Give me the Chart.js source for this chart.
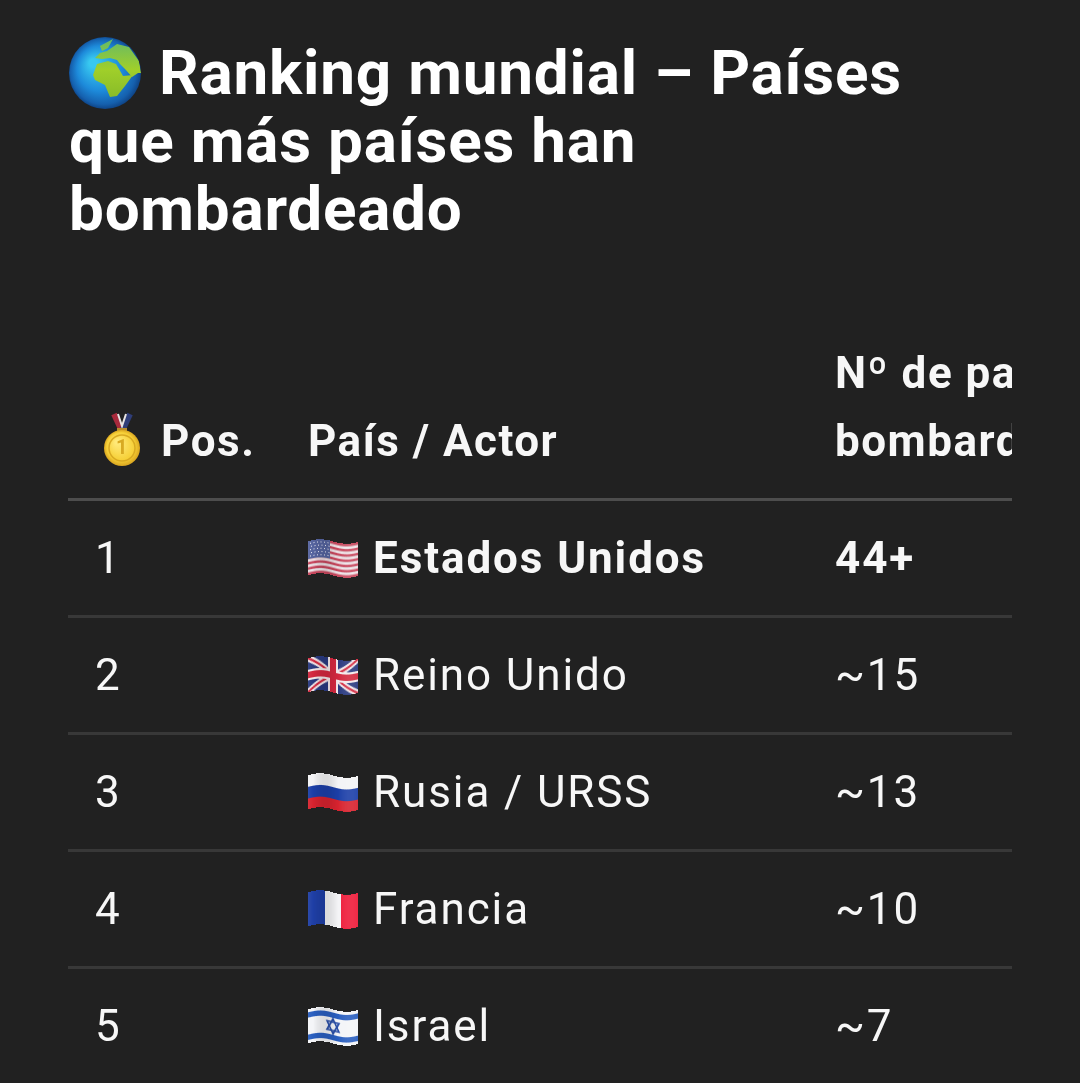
<!DOCTYPE html>
<html>
<head>
<meta charset="utf-8">
<style>
  html, body { margin: 0; padding: 0; background: #212121; overflow: hidden; }
  canvas { display: block; }
</style>
<script src="https://cdn.jsdelivr.net/npm/chart.js@4"></script>
</head>
<body>
<canvas id="rankingChart" width="1080" height="1084"></canvas>
<script>
// data
const titleLines = ['Ranking mundial – Países', 'que más países han', 'bombardeado'];
const headerPos = 'Pos.';
const headerCountry = 'País / Actor';
const headerCount = ['Nº de países', 'bombardeados'];
const positions = ['1', '2', '3', '4', '5'];
const countries = ['Estados Unidos', 'Reino Unido', 'Rusia / URSS', 'Francia', 'Israel'];
const flags = ['us', 'uk', 'ru', 'fr', 'il'];
const countValues = [44, 15, 13, 10, 7];
const countLabels = ['44+', '~15', '~13', '~10', '~7'];

const FONT = 'Roboto, "Noto Sans", sans-serif';
const WHITE = '#f7f7f7';

function flagCanvas(code) {
  const c = document.createElement('canvas');
  c.width = 50; c.height = 32;
  const g = c.getContext('2d');
  const w = 50, h = 32;
  if (code === 'us') {
    for (let i = 0; i < 13; i++) {
      g.fillStyle = i % 2 ? '#f0e8ec' : '#c8485e';
      g.fillRect(0, i * h / 13, w, h / 13 + 0.5);
    }
    g.fillStyle = '#56649f';
    g.fillRect(0, 0, 22, 17);
    g.fillStyle = '#e6e8f4';
    for (let y = 2; y < 17; y += 3) for (let x = 2 + (y % 2); x < 22; x += 3.5) g.fillRect(x, y, 1, 1);
  } else if (code === 'uk') {
    g.fillStyle = '#2a3a80';
    g.fillRect(0, 0, w, h);
    g.strokeStyle = '#f2e8ea'; g.lineWidth = 6;
    g.beginPath(); g.moveTo(0, 0); g.lineTo(w, h); g.moveTo(w, 0); g.lineTo(0, h); g.stroke();
    g.strokeStyle = '#d3283f'; g.lineWidth = 2;
    g.beginPath(); g.moveTo(0, 0); g.lineTo(w, h); g.moveTo(w, 0); g.lineTo(0, h); g.stroke();
    g.fillStyle = '#f2e8ea';
    g.fillRect(20, 0, 10, h); g.fillRect(0, 11, w, 10);
    g.fillStyle = '#d3283f';
    g.fillRect(22, 0, 6, h); g.fillRect(0, 13, w, 6);
  } else if (code === 'ru') {
    g.fillStyle = '#f4f4f6'; g.fillRect(0, 0, w, 11);
    g.fillStyle = '#1c3fa8'; g.fillRect(0, 11, w, 11);
    g.fillStyle = '#d8232f'; g.fillRect(0, 22, w, 10);
  } else if (code === 'fr') {
    g.fillStyle = '#1f3fa6'; g.fillRect(0, 0, 17, h);
    g.fillStyle = '#f4f4f6'; g.fillRect(17, 0, 16, h);
    g.fillStyle = '#ee1c3a'; g.fillRect(33, 0, 17, h);
  } else {
    g.fillStyle = '#f4f5f8'; g.fillRect(0, 0, w, h);
    g.fillStyle = '#2a5fc0';
    g.fillRect(0, 3, w, 5); g.fillRect(0, 24, w, 5);
    g.strokeStyle = '#2a4fa8'; g.lineWidth = 1.6;
    [-1, 1].forEach(a => {
      g.beginPath();
      g.moveTo(25, 16 + a * 7); g.lineTo(31, 16 - a * 4); g.lineTo(19, 16 - a * 4);
      g.closePath(); g.stroke();
    });
  }
  return c;
}

// wavy emoji flag, drawn as vertical slices
function drawFlag(ctx, code, x, yMid) {
  const src = flagCanvas(code);
  const h = 34;
  ctx.save();
  ctx.filter = 'blur(0.5px)';
  for (let i = 0; i < 50; i++) {
    const dy = Math.sin(i / 50 * Math.PI * 2) * -2 + (i / 50 - 0.5) * 1;
    const shade = 0.1 * Math.cos(i / 50 * Math.PI * 2 + 1);
    ctx.drawImage(src, i, 0, 1, 32, x + i, yMid + 1 - h / 2 + dy, 1, h);
    ctx.fillStyle = shade > 0 ? 'rgba(255,255,255,' + shade + ')' : 'rgba(0,0,0,' + (-shade) + ')';
    ctx.fillRect(x + i, yMid + 1 - h / 2 + dy, 1, h);
  }
  ctx.restore();
}

function drawGlobe(ctx, cx, cy, r) {
  ctx.save();
  ctx.beginPath(); ctx.arc(cx, cy, r, 0, Math.PI * 2); ctx.clip();
  const sea = ctx.createRadialGradient(cx - 12, cy - 10, 4, cx, cy, r * 1.05);
  sea.addColorStop(0, '#38c8f0');
  sea.addColorStop(0.55, '#1d8ada');
  sea.addColorStop(0.85, '#1560ae');
  sea.addColorStop(1, '#0c3a78');
  ctx.fillStyle = sea;
  ctx.fillRect(cx - r, cy - r, r * 2, r * 2);
  const land = ctx.createLinearGradient(cx, cy - r, cx, cy + r);
  land.addColorStop(0, '#62b86a');
  land.addColorStop(0.45, '#a0cf2a');
  land.addColorStop(1, '#7fb428');
  ctx.fillStyle = land;
  ctx.filter = 'blur(0.5px)';
  const poly = pts => {
    ctx.beginPath();
    pts.forEach(([x, y], i) => i ? ctx.lineTo(cx + x, cy + y) : ctx.moveTo(cx + x, cy + y));
    ctx.closePath(); ctx.fill();
  };
  // africa
  poly([[-12, 2], [-8, -9], [3, -12], [11, -9], [14, -4], [18, 3], [28, 2], [20, 13], [12, 23], [5, 24], [0, 12], [-10, 7]]);
  // eurasia with arabia
  poly([[-10, -15], [-5, -20], [2, -22], [12, -29], [24, -26], [34, -12], [36, 0], [33, 0], [27, 4], [20, -4], [15, -9], [12, -13], [5, -15], [-3, -14]]);
  // greenland
  poly([[-5, -27], [8, -34], [3, -25], [-3, -22]]);
  ctx.restore();
}

function drawMedal(ctx, cx, cy) {
  ctx.save();
  // ribbon
  const top = cy - 34;
  ctx.lineWidth = 6;
  ctx.strokeStyle = '#a82a3c';
  ctx.beginPath(); ctx.moveTo(cx - 8, top); ctx.lineTo(cx - 1, top + 15); ctx.stroke();
  ctx.strokeStyle = '#2f3d78';
  ctx.beginPath(); ctx.moveTo(cx + 8, top); ctx.lineTo(cx + 1, top + 15); ctx.stroke();
  ctx.strokeStyle = '#e8e4e4'; ctx.lineWidth = 2;
  ctx.beginPath(); ctx.moveTo(cx - 4, top); ctx.lineTo(cx, top + 12); ctx.lineTo(cx + 4, top); ctx.stroke();
  ctx.fillStyle = '#b98c2a';
  ctx.fillRect(cx - 5, cy - 20, 10, 4);
  const gold = ctx.createRadialGradient(cx - 5, cy - 6, 2, cx, cy, 18);
  gold.addColorStop(0, '#ffe978');
  gold.addColorStop(0.75, '#f6cf36');
  gold.addColorStop(1, '#d9a520');
  ctx.fillStyle = gold;
  ctx.beginPath(); ctx.arc(cx, cy, 18, 0, Math.PI * 2); ctx.fill();
  ctx.strokeStyle = '#d8a922'; ctx.lineWidth = 1.5;
  ctx.beginPath(); ctx.arc(cx, cy, 13, 0, Math.PI * 2); ctx.stroke();
  ctx.fillStyle = '#d8a922';
  ctx.font = 'bold 20px ' + FONT;
  ctx.textAlign = 'center'; ctx.textBaseline = 'middle';
  ctx.fillText('1', cx, cy + 1);
  ctx.restore();
}

function put(ctx, text, x, y, font, spacing, color) {
  ctx.font = font;
  ctx.letterSpacing = spacing + 'px';
  ctx.fillStyle = color || WHITE;
  ctx.fillText(text, x, y);
}

const tablePlugin = {
  id: 'tablePlugin',
  afterDatasetsDraw(chart) {
    const ctx = chart.ctx;
    const area = chart.chartArea;
    const yScale = chart.scales.y;
    ctx.save();
    ctx.textAlign = 'left';
    ctx.textBaseline = 'alphabetic';

    // title
    drawGlobe(ctx, 105, 73, 36);
    put(ctx, titleLines[0], 159, 94, 'bold 62px ' + FONT, 0.8, '#ffffff');
    put(ctx, titleLines[1], 69, 162, 'bold 62px ' + FONT, 0.8, '#ffffff');
    put(ctx, titleLines[2], 69, 230, 'bold 62px ' + FONT, 0.75, '#ffffff');

    // header row
    drawMedal(ctx, 122, 448);
    const headFont = 'bold 44px ' + FONT;
    put(ctx, headerPos, 161, 456, headFont, 1.6);
    put(ctx, headerCountry, 308, 456, headFont, 1.5);
    ctx.save();
    ctx.beginPath();
    ctx.rect(area.left, 340, area.right - area.left, 160);
    ctx.clip();
    put(ctx, headerCount[0], 835, 388, headFont, 1.5);
    put(ctx, headerCount[1], 835, 456, headFont, 1.5);
    ctx.restore();

    // body rows
    chart.data.labels.forEach((name, i) => {
      const yMid = yScale.getPixelForValue(i);
      const base = yMid + 15;
      const bold = i === 0;
      const font = (bold ? 'bold ' : '') + '44px ' + FONT;
      put(ctx, positions[i], 95, base, '44px ' + FONT, 1.8);
      drawFlag(ctx, flags[i], 308, yMid);
      put(ctx, name, 373, base, font, 1.9);
      put(ctx, countLabels[i], 835, base, font, 1.9);
    });
    ctx.restore();
  }
};

new Chart(document.getElementById('rankingChart'), {
  type: 'bar',
  data: {
    labels: countries,
    datasets: [{
      label: headerCount.join(' '),
      data: countValues,
      backgroundColor: 'transparent',
      borderWidth: 0
    }]
  },
  options: {
    indexAxis: 'y',
    responsive: false,
    animation: false,
    devicePixelRatio: 1,
    layout: { padding: { left: 68, right: 68, top: 499, bottom: 0 } },
    plugins: {
      legend: { display: false },
      tooltip: { enabled: false },
      title: { display: false, text: titleLines }
    },
    scales: {
      x: { display: false, min: 0, max: 50 },
      y: {
        border: { display: false },
        ticks: { display: false },
        grid: {
          drawTicks: false,
          color: ctx => ctx.index === 0 ? '#4d4d4d' : '#383838',
          lineWidth: 3
        }
      }
    }
  },
  plugins: [tablePlugin]
});
</script>
</body>
</html>
